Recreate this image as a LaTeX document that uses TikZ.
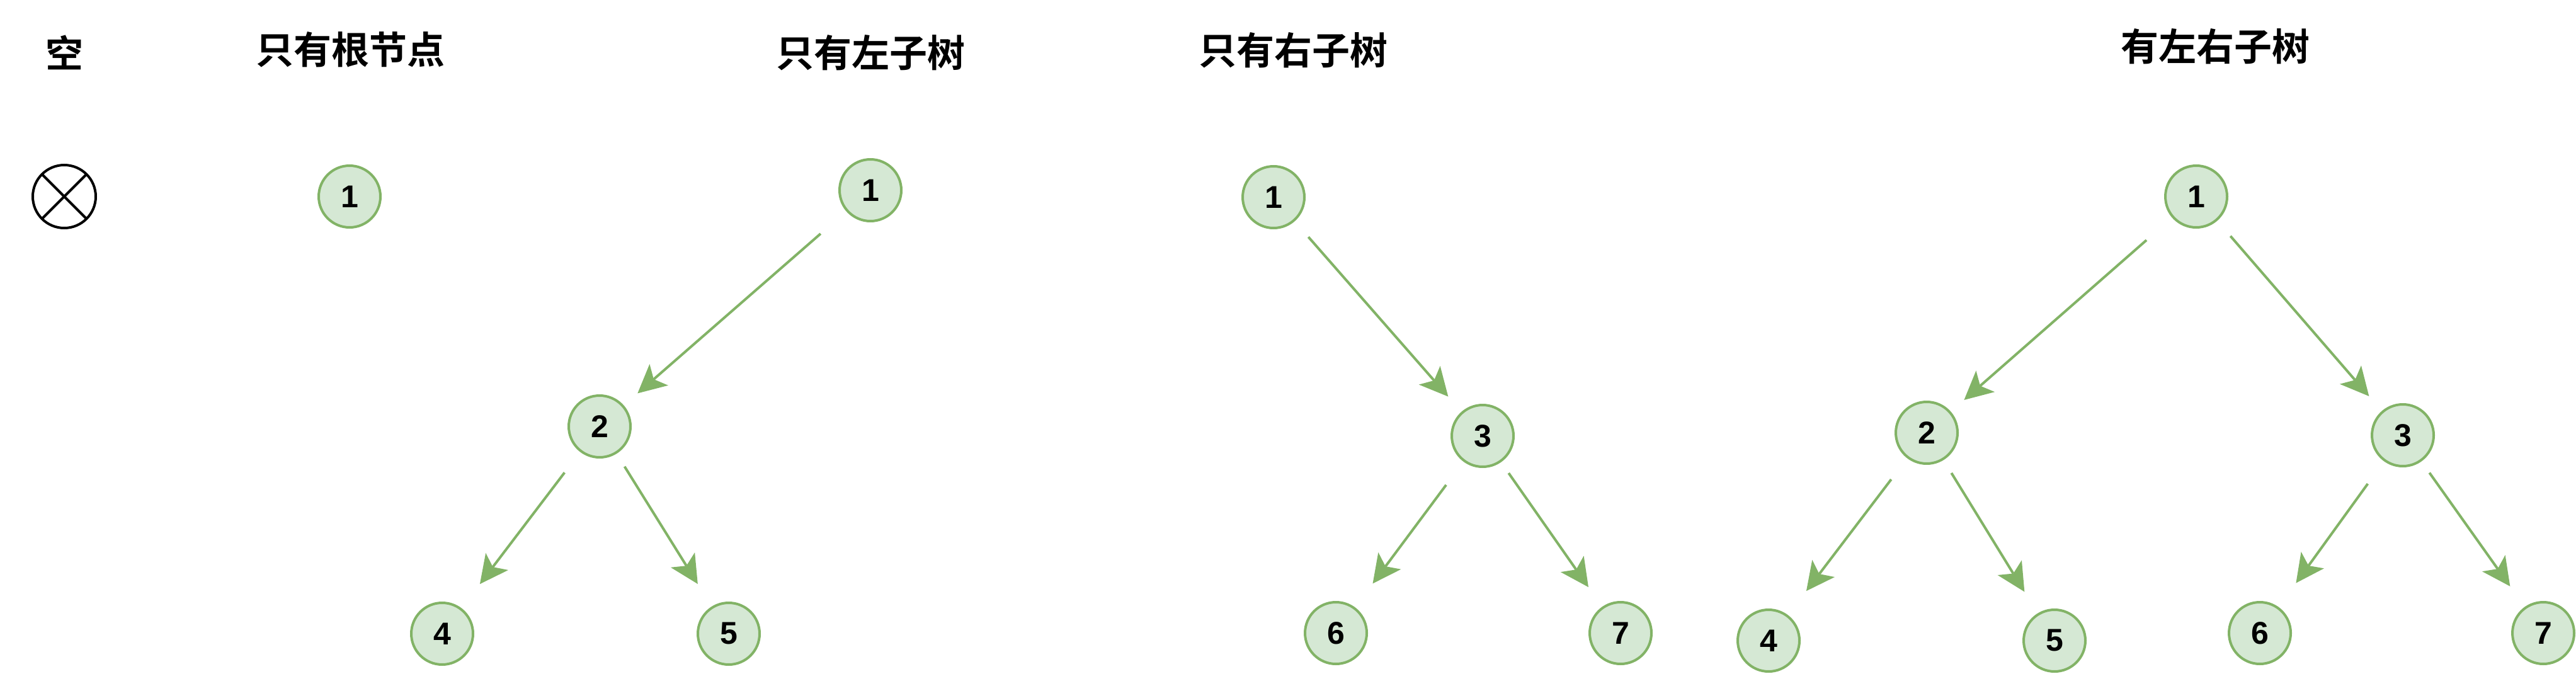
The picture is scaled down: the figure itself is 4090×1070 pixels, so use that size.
\documentclass[tikz,border=0pt]{standalone}
\usepackage{fontspec}
\setmainfont{Liberation Sans}
\newfontfamily\cjk{Noto Sans CJK SC}[BoldFont={* Bold}]
\usetikzlibrary{arrows.meta}
\definecolor{gfill}{HTML}{D5E8D4}
\definecolor{gline}{HTML}{82B366}
\tikzset{
  tnode/.style={circle, draw=gline, fill=gfill, line width=4pt, minimum size=98pt,
    inner sep=0pt, outer sep=0pt, font=\fontsize{50}{50}\selectfont\bfseries},
  title/.style={font=\cjk\fontsize{60}{60}\selectfont\bfseries, inner sep=0pt},
  edge/.style={draw=gline, line width=4pt,
    -{Stealth[length=45pt, width=45pt, inset=11pt, fill=gline, line width=0pt]}},
  emptynode/.style={circle, draw=black, line width=4pt, minimum size=100pt, inner sep=0pt, outer sep=0pt}
}
\begin{document}
\begin{tikzpicture}[x=1pt, y=-1pt]
\useasboundingbox (0,0) rectangle (4090,1070);
% titles
\node[title] (t0) at (102,83) {空};
\node[title] (t1) at (556,79) {只有根节点};
\node[title] (t2) at (1382,84) {只有左子树};
\node[title] (t3) at (2053,80) {只有右子树};
\node[title] (t4) at (3517,74) {有左右子树};
% empty tree
\node[emptynode] (e) at (102,312) {};
\draw[line width=4pt] (e.45) -- (e.225) (e.135) -- (e.315);
% only root
\node[tnode] (r1) at (555,312) {1};
% only left subtree
\node[tnode] (a1) at (1382,302) {1};
\node[tnode] (a2) at (952,677) {2};
\node[tnode] (a4) at (702,1006) {4};
\node[tnode] (a5) at (1157,1006) {5};
\draw[edge, shorten <=56pt, shorten >=31pt] (a1) -- (a2);
\draw[edge, shorten <=43pt, shorten >=50pt] (a2) -- (a4);
\draw[edge, shorten <=26pt, shorten >=44pt] (a2) -- (a5);
% only right subtree
\node[tnode] (b1) at (2022,313) {1};
\node[tnode] (b3) at (2354,692) {3};
\node[tnode] (b6) at (2121,1005) {6};
\node[tnode] (b7) at (2573,1005) {7};
\draw[edge, shorten <=35pt, shorten >=34pt] (b1) -- (b3);
\draw[edge, shorten <=48pt, shorten >=49pt] (b3) -- (b6);
\draw[edge, shorten <=23pt, shorten >=40pt] (b3) -- (b7);
% full tree
\node[tnode] (c1) at (3487,312) {1};
\node[tnode] (c2) at (3059,687) {2};
\node[tnode] (c3) at (3815,691) {3};
\node[tnode] (c4) at (2808,1017) {4};
\node[tnode] (c5) at (3262,1017) {5};
\node[tnode] (c6) at (3588,1005) {6};
\node[tnode] (c7) at (4038,1005) {7};
\draw[edge, shorten <=56pt, shorten >=30pt] (c1) -- (c2);
\draw[edge, shorten <=34pt, shorten >=33pt] (c1) -- (c3);
\draw[edge, shorten <=44pt, shorten >=50pt] (c2) -- (c4);
\draw[edge, shorten <=26pt, shorten >=42pt] (c2) -- (c5);
\draw[edge, shorten <=46pt, shorten >=49pt] (c3) -- (c6);
\draw[edge, shorten <=24pt, shorten >=42pt] (c3) -- (c7);
\end{tikzpicture}
\end{document}
